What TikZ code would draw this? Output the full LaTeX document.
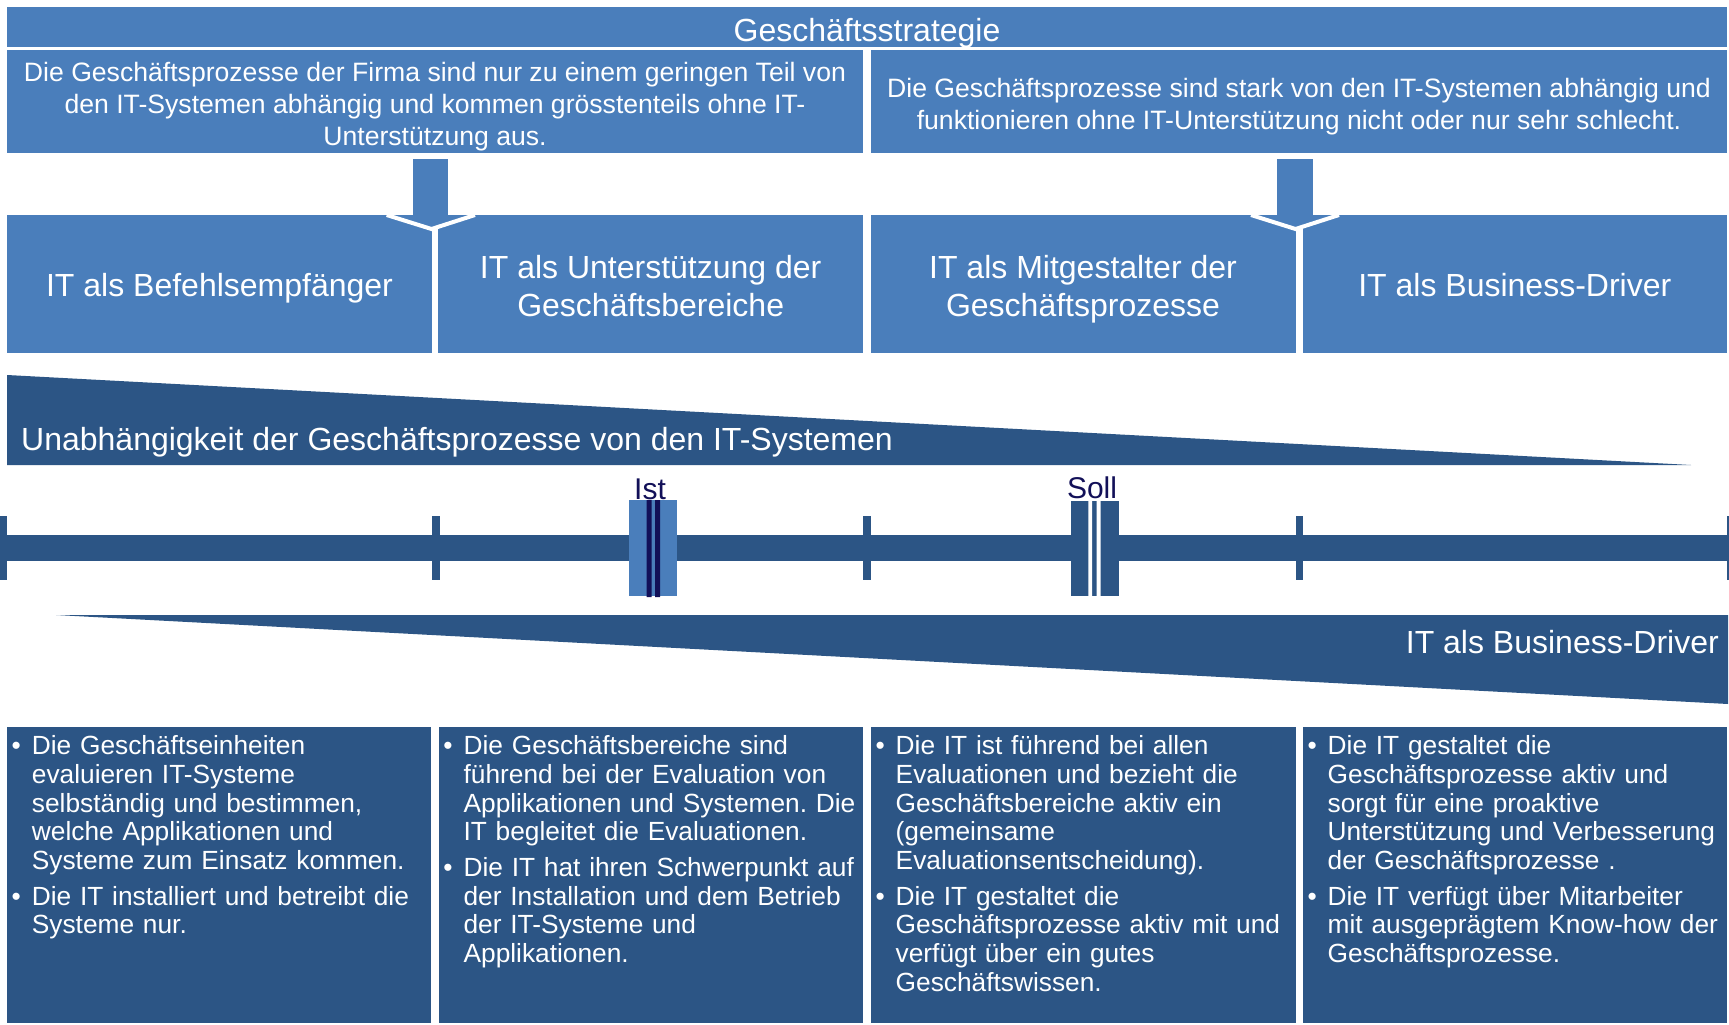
\documentclass[tikz,border=0pt]{standalone}
\usepackage{fontspec}
\setmainfont{Liberation Sans}
\definecolor{midblue}{RGB}{74,126,187}
\definecolor{darkblue}{RGB}{44,85,133}
\definecolor{navyline}{RGB}{18,16,88}
\newcommand\fA{\fontsize{32}{37}\selectfont}
\newcommand\fB{\fontsize{26.6}{32}\selectfont}
\newcommand\fC{\fontsize{32}{37.4}\selectfont}
\newcommand\fD{\fontsize{26.3}{28.8}\selectfont}
\newcommand\fE{\fontsize{30}{36}\selectfont}
\newcommand\bl{\noindent\llap{•\hspace{11pt}}}
\frenchspacing
\begin{document}
\begin{tikzpicture}[x=1pt,y=-1pt,
  mfill/.style={fill=midblue},
  dfill/.style={fill=darkblue},
  txt/.style={text=white, inner sep=0pt},
  ctext/.style={txt, align=center, anchor=north},
  btext/.style={txt, font=\fD, text width=430pt, align=left, anchor=north west},
  marklabel/.style={font=\fE, text=navyline, inner sep=0pt, anchor=base},
]
\useasboundingbox[fill=white] (0,0) rectangle (1729,1025);

% header
\fill[mfill] (7,7) rectangle (1727,47);
\node[txt, font=\fA, anchor=base] (hdr) at (867,41.5) {Geschäftsstrategie};

% row 2
\fill[mfill] (7,50) rectangle (863,153);
\fill[mfill] (871,50) rectangle (1727,153);
\node[ctext, font=\fB] (d1) at (435,57.2) {\rule{0pt}{24pt}Die Geschäftsprozesse der Firma sind nur zu einem geringen Teil von\\den IT-Systemen abhängig und kommen grösstenteils ohne IT-\\Unterstützung aus.};
\node[ctext, font=\fB] (d2) at (1299,73.5) {\rule{0pt}{24pt}Die Geschäftsprozesse sind stark von den IT-Systemen abhängig und\\funktionieren ohne IT-Unterstützung nicht oder nur sehr schlecht.};

% row 3 boxes
\fill[mfill] (6.7,215) rectangle (432.3,352.7);
\fill[mfill] (438.3,215) rectangle (863,352.7);
\fill[mfill] (870.5,215) rectangle (1295.5,352.7);
\fill[mfill] (1302.5,215) rectangle (1727,352.7);

% arrows
\fill[mfill] (412.7,159.3) rectangle (448.3,215.5);
\fill[mfill] (386.7,215) -- (431.5,229) -- (475,215) -- cycle;
\draw[white, line width=4pt] (386.7,215) -- (431.5,229) -- (475,215);
\fill[mfill] (1276.7,159.3) rectangle (1312.7,215.5);
\fill[mfill] (1251,215) -- (1295.5,229) -- (1339,215) -- cycle;
\draw[white, line width=4pt] (1251,215) -- (1295.5,229) -- (1339,215);

\node[txt, font=\fC, anchor=base] (r1) at (219.5,296.7) {IT als Befehlsempfänger};
\node[ctext, font=\fC] (r2) at (650.7,252.4) {\rule{0pt}{26pt}IT als Unterstützung der\\Geschäftsbereiche};
\node[ctext, font=\fC] (r3) at (1083,252.4) {\rule{0pt}{26pt}IT als Mitgestalter der\\Geschäftsprozesse};
\node[txt, font=\fC, anchor=base] (r4) at (1514.8,296.7) {IT als Business-Driver};

% wedges
\fill[dfill] (7,375) -- (1691,465) -- (7,465) -- cycle;
\node[txt, font=\fC, anchor=base west] (w1) at (21,450.7) {Unabhängigkeit der Geschäftsprozesse von den IT-Systemen};
\fill[dfill] (56,615) -- (1728,615) -- (1728,704) -- cycle;
\node[txt, font=\fC, anchor=base east] (w2) at (1719,653) {IT als Business-Driver};

% timeline
\fill[dfill] (0,535) rectangle (1729,561);
\foreach \a/\b in {0/7, 432/439.5, 863/871, 1295.5/1303, 1727/1729}
  \fill[dfill] (\a,516) rectangle (\b,580);

% Ist marker
\fill[mfill] (629,500) rectangle (677,596);
\fill[navyline] (646.7,500) rectangle (651.7,597) (655,500) rectangle (660,597);
\node[marklabel] (ist) at (650,499) {Ist};
% Soll marker
\fill[dfill] (1071,501) rectangle (1119,596);
\fill[white] (1088.3,501) rectangle (1092,596) (1096.7,501) rectangle (1100.7,596);
\node[marklabel] (soll) at (1092,498.5) {Soll};

% bottom boxes
\fill[dfill] (6.7,727.3) rectangle (431,1023.3);
\fill[dfill] (438.5,727.3) rectangle (863,1023.3);
\fill[dfill] (870.5,727.3) rectangle (1295.5,1023.3);
\fill[dfill] (1302.5,727.3) rectangle (1727,1023.3);

\node[btext] (b1) at (31.7,733.3) {\rule{0pt}{21pt}\bl Die Geschäftseinheiten\\evaluieren IT-Systeme\\selbständig und bestimmen,\\welche Applikationen und\\Systeme zum Einsatz kommen.\\[6.5pt]\bl Die IT installiert und betreibt die\\Systeme nur.};
\node[btext] (b2) at (463.4,733.3) {\rule{0pt}{21pt}\bl Die Geschäftsbereiche sind\\führend bei der Evaluation von\\Applikationen und Systemen. Die\\IT begleitet die Evaluationen.\\[6.5pt]\bl Die IT hat ihren Schwerpunkt auf\\der Installation und dem Betrieb\\der IT-Systeme und\\Applikationen.};
\node[btext] (b3) at (895.5,733.3) {\rule{0pt}{21pt}\bl Die IT ist führend bei allen\\Evaluationen und bezieht die\\Geschäftsbereiche aktiv ein\\(gemeinsame\\Evaluationsentscheidung).\\[6.5pt]\bl Die IT gestaltet die\\Geschäftsprozesse aktiv mit und\\verfügt über ein gutes\\Geschäftswissen.};
\node[btext] (b4) at (1327.5,733.3) {\rule{0pt}{21pt}\bl Die IT gestaltet die\\Geschäftsprozesse aktiv und\\sorgt für eine proaktive\\Unterstützung und Verbesserung\\der Geschäftsprozesse .\\[6.5pt]\bl Die IT verfügt über Mitarbeiter\\mit ausgeprägtem Know-how der\\Geschäftsprozesse.};
\end{tikzpicture}
\end{document}
